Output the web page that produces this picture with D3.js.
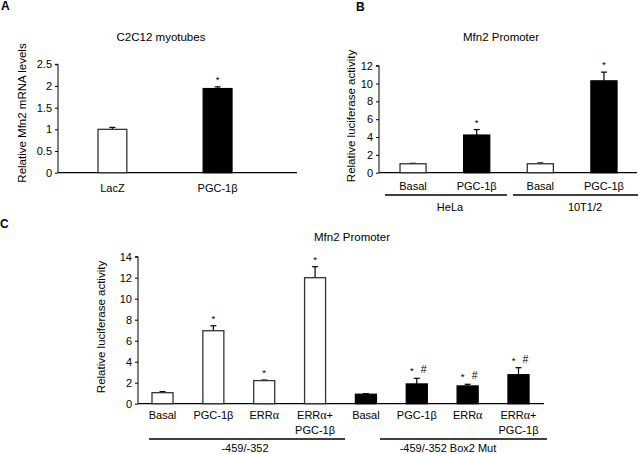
<!DOCTYPE html>
<html><head><meta charset="utf-8">
<script src="https://cdn.jsdelivr.net/npm/d3@7"></script>
<style>
body{margin:0;background:#fff;}
text{font-family:"Liberation Sans",Arial,sans-serif;fill:#000;}
</style></head>
<body>
<svg id="c" width="638" height="454"></svg>
<script>
// Panel A
const catsA = ["LacZ", "PGC-1β"];
const valsA = [1.0, 1.94];
const errA = [0.045, 0.04];
const fillA = ["white", "black"];
const starA = ["", "*"];
const ticksA = [0, 0.5, 1, 1.5, 2, 2.5];

// Panel B
const catsB = ["Basal", "PGC-1β", "Basal", "PGC-1β"];
const valsB = [1.0, 4.22, 1.0, 10.3];
const errB = [0.05, 0.62, 0.1, 0.98];
const fillB = ["white", "black", "white", "black"];
const starB = ["", "*", "", "*"];
const groupsB = ["HeLa", "10T1/2"];
const ticksB = [0, 2, 4, 6, 8, 10, 12];

// Panel C
const catsC = ["Basal", "PGC-1β", "ERRα", "ERRα+|PGC-1β", "Basal", "PGC-1β", "ERRα", "ERRα+|PGC-1β"];
const valsC = [1.05, 6.95, 2.2, 12.0, 0.9, 1.88, 1.69, 2.76];
const errC = [0.1, 0.47, 0.05, 1.05, 0.06, 0.54, 0.16, 0.67];
const fillC = ["white", "white", "white", "white", "black", "black", "black", "black"];
const starC = ["", "*", "*", "*", "", "*", "*", "*"];
const hashC = ["", "", "", "", "", "#", "#", "#"];
const groupsC = ["-459/-352", "-459/-352 Box2 Mut"];
const ticksC = [0, 2, 4, 6, 8, 10, 12, 14];

const svg = d3.select("#c");
const FS = 11;

function panel(o) {
  const g = svg.append("g");
  const y = d3.scaleLinear().domain([0, o.ymax]).range([o.y0, o.y1]);
  const x = d3.scaleBand().domain(d3.range(o.cats.length)).range([o.bx0, o.bx1])
    .paddingInner(o.pi).paddingOuter(0);
  // y axis
  const ya = g.append("g").attr("transform", `translate(${o.ax},0)`)
    .call(d3.axisLeft(y).tickValues(o.ticks).tickSize(3).tickPadding(3).tickFormat(d3.format("")));
  ya.selectAll("text").attr("font-size", FS).attr("font-family", "Liberation Sans, Arial");
  ya.select(".domain").attr("d", `M-3,${y(o.ymax)}H0V${y(0)}`).attr("stroke", "#000");
  ya.selectAll(".tick line").attr("stroke", "#000");
  // x axis line
  g.append("line").attr("x1", o.ax).attr("x2", o.axEnd).attr("y1", y(0)).attr("y2", y(0))
    .attr("stroke", "#000").attr("stroke-width", 1.2);
  // bars
  const bw = x.bandwidth();
  o.vals.forEach((v, i) => {
    const cx = x(i) + bw / 2;
    const top = y(v + o.err[i]);
    g.append("line").attr("x1", cx).attr("x2", cx).attr("y1", y(v)).attr("y2", top)
      .attr("stroke", "#000").attr("stroke-width", 1.2);
    g.append("line").attr("x1", cx - 3).attr("x2", cx + 3).attr("y1", top).attr("y2", top)
      .attr("stroke", "#000").attr("stroke-width", 1.2);
    g.append("rect").attr("x", x(i)).attr("y", y(v)).attr("width", bw).attr("height", y(0) - y(v))
      .attr("fill", o.fill[i]).attr("stroke", o.fill[i] === "white" ? "#333" : "#000").attr("stroke-width", 1.3);
    if (o.stars[i]) {
      const dx = (o.hash && o.hash[i]) ? -5 : 0;
      g.append("text").attr("x", cx + dx).attr("y", top - 4).attr("text-anchor", "middle")
        .attr("font-size", 9.5).text(o.stars[i]);
      if (o.hash && o.hash[i]) {
        g.append("text").attr("x", cx + 7).attr("y", top - 5).attr("text-anchor", "middle")
          .attr("font-size", 10.5).text(o.hash[i]);
      }
    }
    // category label
    const parts = o.cats[i].split("|");
    parts.forEach((p, k) => {
      const t = g.append("text").attr("x", cx).attr("y", o.labY + k * 15).attr("text-anchor", "middle")
        .attr("font-size", FS);
      if (p.includes("α")) {
        const [a, b] = p.split("α");
        t.append("tspan").text(a);
        t.append("tspan").attr("font-family", "Liberation Serif, serif").attr("font-size", 12).text("α");
        t.append("tspan").text(b);
      } else t.text(p);
    });
  });
  // title
  g.append("text").attr("x", o.tx).attr("y", o.ty).attr("text-anchor", "middle").attr("font-size", 11.5).text(o.title);
  // y title
  g.append("text").attr("transform", `translate(${o.ytx},${o.yty}) rotate(-90)`)
    .attr("text-anchor", "middle").attr("font-size", 11.5).text(o.ytitle);
  // groups
  if (o.groups) {
    o.groups.forEach((gr, k) => {
      const gl = o.glines[k];
      g.append("line").attr("x1", gl[0]).attr("x2", gl[1]).attr("y1", o.gy).attr("y2", o.gy)
        .attr("stroke", "#000").attr("stroke-width", 1.3);
      g.append("text").attr("x", o.gtx[k]).attr("y", o.gy + o.gdy).attr("text-anchor", "middle")
        .attr("font-size", FS).text(gr);
    });
  }
  // panel letter
  g.append("text").attr("x", o.lx).attr("y", o.ly).attr("font-size", 12).attr("font-weight", "bold").text(o.letter);
}

panel({cats: catsA, vals: valsA, err: errA, fill: fillA, stars: starA, ticks: ticksA, ymax: 2.5,
  y0: 172.7, y1: 64.3, bx0: 98, bx1: 232, pi: 0.726, ax: 58, axEnd: 297, labY: 192,
  title: "C2C12 myotubes", tx: 161, ty: 41, ytitle: "Relative Mfn2 mRNA levels", ytx: 26, yty: 113,
  letter: "A", lx: 1, ly: 10});

panel({cats: catsB, vals: valsB, err: errB, fill: fillB, stars: starB, ticks: ticksB, ymax: 12,
  y0: 172.7, y1: 65.7, bx0: 400, bx1: 617, pi: 0.59, ax: 379, axEnd: 637, labY: 190,
  title: "Mfn2 Promoter", tx: 501, ty: 41, ytitle: "Relative luciferase activity", ytx: 355, yty: 116,
  groups: groupsB, glines: [[385, 507], [513, 638]], gy: 195, gdy: 16, gtx: [450, 585],
  letter: "B", lx: 356, ly: 11});

panel({cats: catsC, vals: valsC, err: errC, fill: fillC, stars: starC, hash: hashC, ticks: ticksC, ymax: 14,
  y0: 403.7, y1: 256.7, bx0: 152, bx1: 529, pi: 0.587, ax: 138, axEnd: 544, labY: 419,
  title: "Mfn2 Promoter", tx: 352, ty: 241, ytitle: "Relative luciferase activity", ytx: 105, yty: 327,
  groups: groupsC, glines: [[149, 345], [380, 547]], gy: 439, gdy: 12.5, gtx: [245, 448],
  letter: "C", lx: 0, ly: 228});
</script>
</body></html>
